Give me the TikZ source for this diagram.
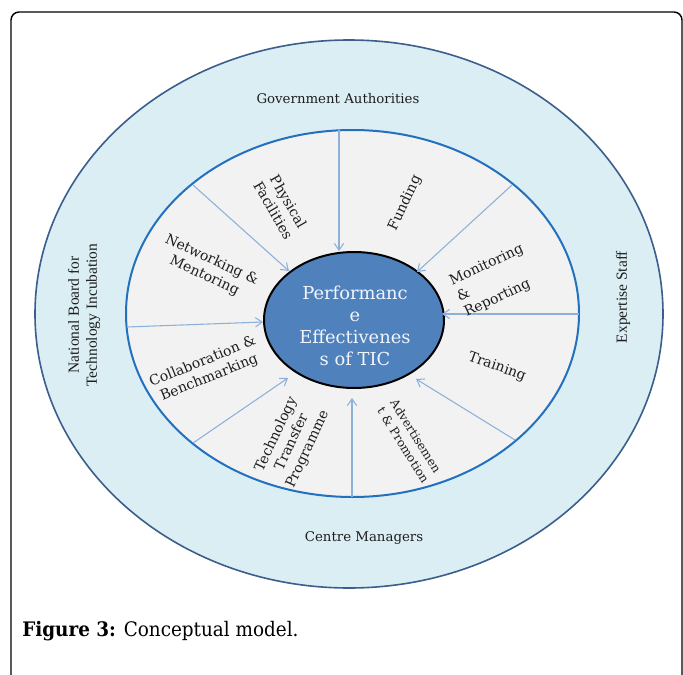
\documentclass[tikz,border=0pt]{standalone}
\usepackage{fontspec}
\setmainfont{DejaVu Serif}
\newfontfamily\sidefont{Liberation Serif}
\newfontfamily\capfont[FakeStretch=0.92]{DejaVu Serif}
\usetikzlibrary{shapes.geometric,arrows.meta}
\definecolor{outerfill}{HTML}{DAEEF3}
\definecolor{outerdraw}{HTML}{3B5E8C}
\definecolor{midfill}{HTML}{F2F2F2}
\definecolor{middraw}{HTML}{2370BE}
\definecolor{innerfill}{HTML}{4F81BD}
\definecolor{spokecol}{HTML}{8DB0DA}
\definecolor{labcol}{HTML}{1E1E1E}
\definecolor{centertext}{HTML}{F2F6FC}
\begin{document}
\begin{tikzpicture}[x=0.75pt,y=-0.75pt,
  outerell/.style={ellipse,draw=outerdraw,fill=outerfill,line width=1.2pt,inner sep=0pt,minimum width=471pt,minimum height=411pt},
  midell/.style={ellipse,draw=middraw,fill=midfill,line width=1.5pt,inner sep=0pt,minimum width=339.75pt,minimum height=275.25pt},
  innerell/.style={ellipse,draw=black,fill=innerfill,line width=1.5pt,inner sep=0pt,minimum width=135pt,minimum height=102pt},
  spoke/.style={draw=spokecol,line width=0.8pt,-{Straight Barb[length=5pt,width=7pt]}},
  outerlab/.style={text=labcol,font=\fontsize{10}{12}\selectfont,align=center,inner sep=0pt},
  sidelab/.style={text=labcol,font=\sidefont\fontsize{11.6}{13.5}\selectfont,align=center,inner sep=0pt},
  seclab/.style={text=labcol,font=\fontsize{10.5}{13}\selectfont,align=center,inner sep=0pt},
  centerlab/.style={text=centertext,font=\fontsize{13.4}{16.5}\selectfont,align=center}
]
\useasboundingbox (0,0) rectangle (683,675);
\fill[white] (0,0) rectangle (683,675);
\draw[black,line width=1.1pt,rounded corners=6pt] (11,700) -- (11,12) -- (682,12) -- (682,700);

\node[outerell] (outer) at (349,314) {};
\node[midell] (middle) at (352.5,313.5) {};
\node[innerell] (inner) at (354,320) {};
\node[centerlab] (ctext) at (355,326) {Performanc\\e\\Effectivenes\\s of TIC};

% spokes
\coordinate (a1) at (339,130); \coordinate (b1) at (339,251);
\coordinate (a2) at (193,185); \coordinate (b2) at (289,271);
\coordinate (a3) at (127,327); \coordinate (b3) at (263,322);
\coordinate (a4) at (193,443); \coordinate (b4) at (288,378);
\coordinate (a5) at (352,497); \coordinate (b5) at (352,398);
\coordinate (a6) at (515,440); \coordinate (b6) at (416,379);
\coordinate (a7) at (579,314); \coordinate (b7) at (442,314);
\coordinate (a8) at (512,185); \coordinate (b8) at (417,272);
\foreach \i in {1,...,8} { \draw[spoke] (a\i) -- (b\i); }

% outer labels
\node[outerlab] (gov) at (338,99) {Government Authorities};
\node[outerlab] (cm) at (364,538) {Centre Managers};
\node[sidelab,rotate=90] (nb) at (84,315) {National Board for\\Technology Incubation};
\node[sidelab,rotate=90] (es) at (623,297) {Expertise Staff};

% sector labels
\node[seclab,rotate=-60] (pf) at (281,206) {Physical\\Facilities};
\node[seclab,rotate=65] (fu) at (405,203) {Funding};
\node[seclab,rotate=-25] (nm) at (208,268) {Networking \&\\Mentoring};
\node[seclab,rotate=25,align=left] (mr) at (494,281) {Monitoring\\\&\\Reporting};
\node[seclab,rotate=22] (cb) at (206,370) {Collaboration \&\\Benchmarking};
\node[seclab,rotate=-20] (tr) at (497,367) {Training};
\node[seclab,rotate=65] (tt) at (292,442) {Technology\\Transfer\\Programme};
\node[seclab,rotate=-58,align=left,font=\fontsize{9}{11.5}\selectfont] (ap) at (410,441) {Advertisemen\\t \& Promotion};

% caption
\node[anchor=base west,inner sep=0pt,font=\capfont\fontsize{15}{18}\selectfont] (cap) at (22,636) {\textbf{Figure 3:} Conceptual model.};
\end{tikzpicture}
\end{document}
